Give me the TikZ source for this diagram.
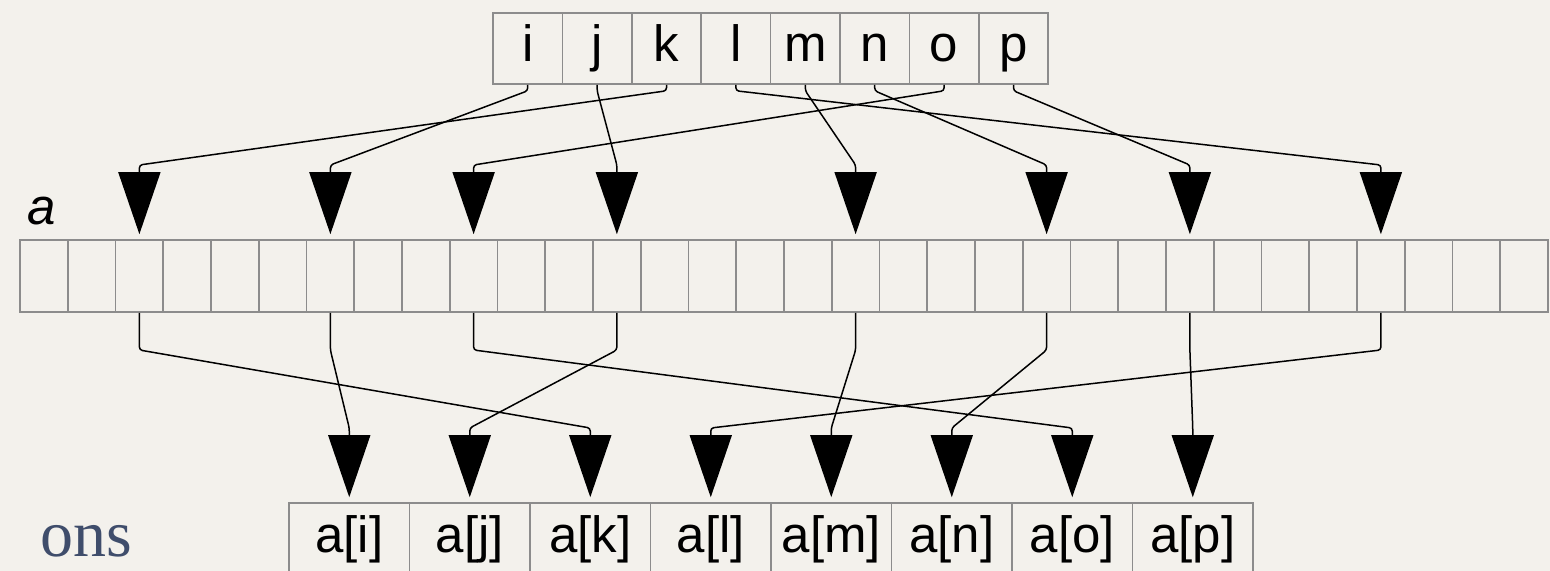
\documentclass[tikz,border=0pt]{standalone}
\usepackage{fontspec}
\setmainfont{Liberation Sans}
\newfontfamily\slidefont{Liberation Serif}
\usetikzlibrary{arrows.meta}

\definecolor{papel}{HTML}{F3F1EC}
\definecolor{cinza}{HTML}{8C8C8C}
\definecolor{azultitulo}{HTML}{3F4D6B}

\begin{document}
\begin{tikzpicture}[x=0.5pt, y=-0.5pt,
    cell/.style={draw=cinza, line width=0.8pt, inner sep=0pt, minimum height=36pt,
        text height=18.5pt, text depth=5.5pt, font=\fontsize{25.5}{30}\selectfont},
    idxcell/.style={cell, minimum width=34.7pt, minimum height=35.5pt},
    arrcell/.style={cell, minimum width=23.875pt},
    rescell/.style={cell, minimum width=60.25pt},
    gather/.style={line width=0.75pt, rounded corners=1.5pt,
        -{Triangle[width=21pt,length=31pt]}, shorten >=2.5pt}]

    % Fundo
    \fill[papel] (0,0) rectangle (1550,571);
    \useasboundingbox (0,0) rectangle (1550,571);

    % Indices
    \foreach \t [count=\n from 0] in {i,j,k,l,m,n,o,p}
        \node[idxcell] (\t) at (527.7+69.4*\n, 48.5) {\t};

    % Vetor a
    \foreach \c in {0,...,31}
        \node[arrcell] (c\c) at (43.875+47.75*\c, 276) {};
    \node[anchor=base west, inner sep=0pt, font=\fontsize{25.5}{30}\selectfont\itshape]
        (rotulo) at (27,225) {a};

    % Resultado
    \foreach \t [count=\n from 0] in {i,j,k,l,m,n,o,p}
        \node[rescell] (r\t) at (349.25+120.5*\n, 539) {a[\t]};

    \node[anchor=base west, inner sep=0pt, text=azultitulo,
        font=\fontsize{33}{38}\selectfont\slidefont] (titulo) at (40,556) {ons};

    % Linhas de quebra
    \coordinate (altoA) at (0,165);
    \coordinate (altoB) at (0,350);
    \coordinate (baixoB) at (0,428);

    % Gather: indice -> a -> resultado
    \foreach \t/\c in {i/6,j/12,k/2,l/28,m/17,n/21,o/9,p/24}{
        \draw[gather] (\t.south) -- ++(0,6) -- (c\c.north |- altoA) -- (c\c.north);
        \draw[gather] (c\c.south) -- (c\c.south |- altoB) -- (r\t.north |- baixoB) -- (r\t.north);
    }
\end{tikzpicture}
\end{document}
